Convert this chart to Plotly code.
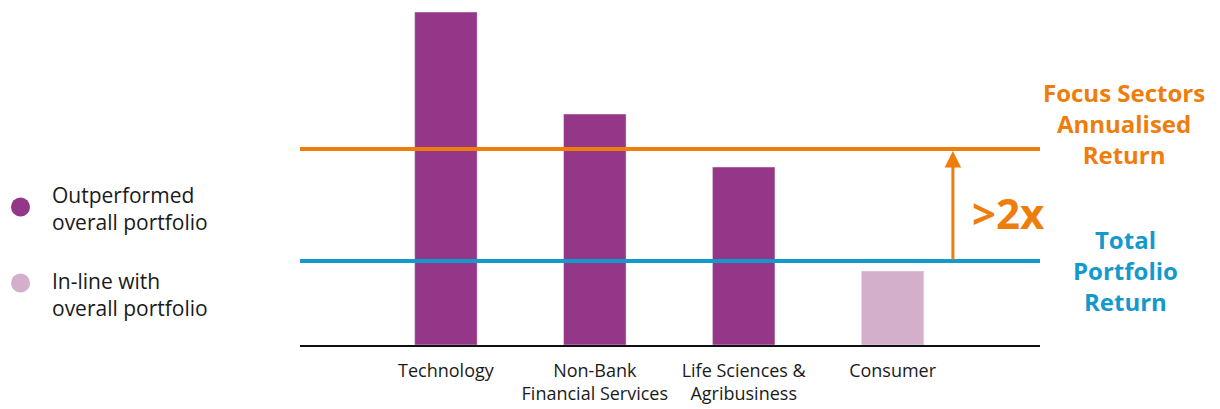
import plotly.graph_objects as go

categories = ["Technology", "Non-Bank<br>Financial Services", "Life Sciences &<br>Agribusiness", "Consumer"]
returns = [33.3, 23.1, 17.8, 7.4]
outperformed = [True, True, True, False]
focus_return = 19.6
total_return = 8.4

focus_label = "Focus Sectors<br>Annualised<br>Return"
total_label = "Total<br>Portfolio<br>Return"
legend_labels = ["Outperformed<br>overall portfolio", "In-line with<br>overall portfolio"]

PURPLE = "#943788"
LIGHT = "#D3AFCC"
ORANGE = "#EF7D0B"
BLUE = "#1499CC"
FONT = "Open Sans"

# page body has an 8px margin; positions below are in reference pixels
W, H = 1212, 401
L, R, T, B = 292, 180, 2, 64
pw, ph = W - L - R, H - T - B

def px(x):
    return (x - 300) / pw

def py(y):
    return (345 - y) / ph

fig = go.Figure()
fig.add_bar(x=[c for c, o in zip(categories, outperformed) if o],
            y=[v for v, o in zip(returns, outperformed) if o],
            marker_color=PURPLE, width=0.42, showlegend=False)
fig.add_bar(x=[c for c, o in zip(categories, outperformed) if not o],
            y=[v for v, o in zip(returns, outperformed) if not o],
            marker_color=LIGHT, width=0.42, showlegend=False)

fig.add_hline(y=focus_return, line=dict(color=ORANGE, width=4))
fig.add_hline(y=total_return, line=dict(color=BLUE, width=4))

# arrow
fig.add_annotation(x=3.405, y=focus_return - 0.2, ax=3.405, ay=total_return,
                   xref="x", yref="y", axref="x", ayref="y",
                   showarrow=True, arrowhead=2, arrowsize=1.1, arrowwidth=3,
                   arrowcolor=ORANGE, text="")
fig.add_annotation(x=px(970), y=py(212), xref="paper", yref="paper",
                   text="<b>>2x</b>", showarrow=False, xanchor="left", yanchor="middle",
                   font=dict(size=42, color=ORANGE, family=FONT))

fig.add_annotation(x=px(1124), y=py(123), xref="paper", yref="paper",
                   text=f"<b>{focus_label}</b>", showarrow=False,
                   xanchor="center", yanchor="middle", align="center",
                   font=dict(size=24, color=ORANGE, family=FONT))
fig.add_annotation(x=px(1125), y=py(270), xref="paper", yref="paper",
                   text=f"<b>{total_label}</b>", showarrow=False,
                   xanchor="center", yanchor="middle", align="center",
                   font=dict(size=24, color=BLUE, family=FONT))

# legend
legend_items = [(legend_labels[0], PURPLE, 207, 208),
                (legend_labels[1], LIGHT, 283, 294.5)]
for text, col, yc, yt in legend_items:
    fig.add_shape(type="circle", xref="paper", yref="paper",
                  x0=px(11), x1=px(30), y0=py(yc + 9.5), y1=py(yc - 9.5),
                  fillcolor=col, line=dict(width=0))
    fig.add_annotation(x=px(50), y=py(yt), xref="paper", yref="paper",
                       text=text, showarrow=False, xanchor="left", yanchor="middle",
                       align="left", font=dict(size=21, color="#1a1a1a", family=FONT))

fig.update_layout(
    width=W, height=H, margin=dict(l=L, r=R, t=T, b=B, autoexpand=False),
    plot_bgcolor="white", paper_bgcolor="white",
    barmode="overlay",
    xaxis=dict(type="category", categoryorder="array", categoryarray=categories,
               range=[-0.98, 3.99], showgrid=False, showline=True,
               linecolor="#111", linewidth=2, ticks="", ticklabelstandoff=8,
               tickangle=0, automargin=False,
               tickfont=dict(size=18, color="#1a1a1a", family=FONT)),
    yaxis=dict(range=[0, ph / 10], showgrid=False, showticklabels=False,
               zeroline=False, showline=False),
)
fig.write_html("out.html")
